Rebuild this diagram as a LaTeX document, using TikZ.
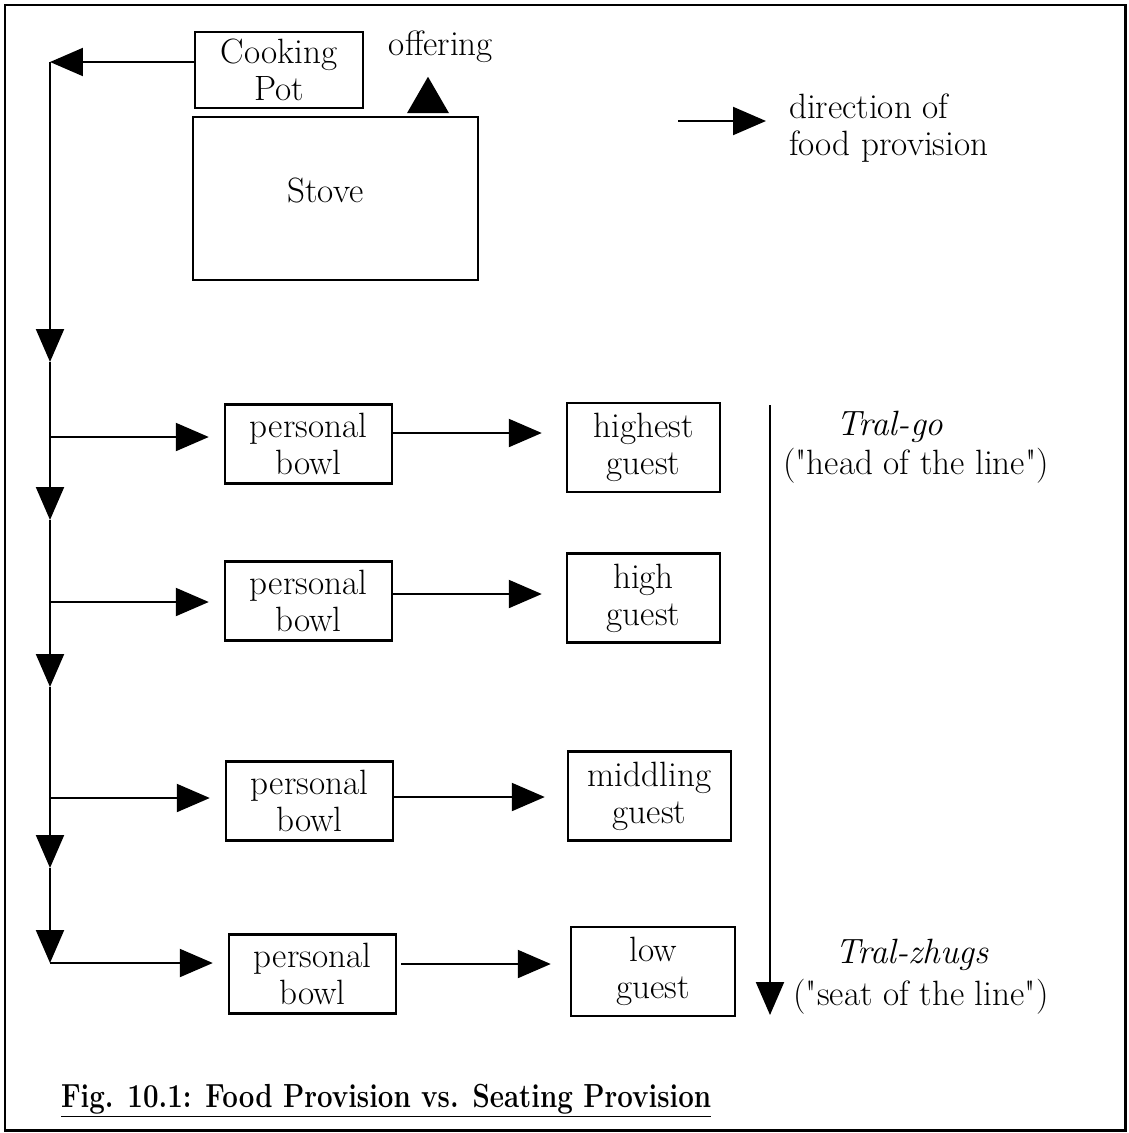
\documentclass[tikz,border=0pt]{standalone}
\usepackage{tikz}
\usetikzlibrary{shapes.geometric}
\usetikzlibrary{arrows.meta}

\begin{document}
\begin{tikzpicture}[x=0.02cm,y=-0.02cm,>={Triangle[length=0.66cm,width=0.56cm]},
	line width=1.2pt,font=\fontsize{20}{21}\selectfont,
	every node/.style={inner sep=0pt},
	box node/.style={draw,line width=1.4pt,align=center},
	bowl node/.style={box node,minimum width=3.34cm,minimum height=1.58cm},
	guest node/.style={box node,minimum height=1.78cm}]
	
	\useasboundingbox (0,0) rectangle (1129,1133);
	\draw[line width=1.7pt] (5,5) rectangle (1125,1130);
	
	% stove and pot
	\node[box node,minimum width=3.36cm,minimum height=1.52cm] (pot) at (279,70) {Cooking\\Pot};
	\node[box node,minimum width=5.7cm,minimum height=3.26cm,
	label={[xshift=-0.2cm,yshift=0.16cm]center:Stove}] (stove) at (335.5,198.5) {};
	\node[fill,regular polygon,regular polygon sides=3,minimum size=0.97cm] (offer mark) at (428,101) {};
	\node (offer) at (441,47) {offering};
	
	% legend
	\node[anchor=west,align=left] (key) at (788,128) {direction of\\food provision};
	\coordinate (key start) at (678,121);
	
	% bowls and guests
	\node[bowl node] (b1) at (308.5,444) {personal\\bowl};
	\node[bowl node] (b2) at (308.5,601) {personal\\bowl};
	\node[bowl node] (b3) at (309.5,801) {personal\\bowl};
	\node[bowl node] (b4) at (312.5,974) {personal\\bowl};
	\node[guest node,minimum width=3.06cm] (g1) at (643.5,447.5) {highest\\guest};
	\node[guest node,minimum width=3.06cm] (g2) at (643.5,598) {high\\guest};
	\node[guest node,minimum width=3.26cm] (g3) at (649.5,796) {middling\\guest};
	\node[guest node,minimum width=3.28cm] (g4) at (653,971.5) {low\\guest};
	
	% seating order
	\node[font=\fontsize{20}{21}\selectfont\itshape] (tral go) at (890,427) {Tral-go};
	\node (head) at (916,466) {(\textquotedbl head of the line\textquotedbl)};
	\node[font=\fontsize{20}{21}\selectfont\itshape] (tral zhugs) at (912,955) {Tral-zhugs};
	\node (seat) at (921,997) {(\textquotedbl seat of the line\textquotedbl)};
	\coordinate (line head) at (770,405);
	\coordinate (line seat) at (770,1015);
	
	\node[anchor=base west,font=\fontsize{19}{21}\selectfont\bfseries] (caption) at (60,1107)
	{\scalebox{0.83}[1]{\underline{Fig. 10.1: Food Provision vs. Seating Provision}}};
	
	% main line
	\coordinate (top) at (50,62);
	\coordinate (d1) at (50,362);
	\coordinate (d2) at (50,520);
	\coordinate (d3) at (50,687);
	\coordinate (d4) at (50,868);
	\coordinate (d5) at (50,963);
	\coordinate (r1) at (50,437);
	\coordinate (r2) at (50,602);
	\coordinate (r3) at (50,798);
	\coordinate (s1) at (0,433);
	\coordinate (s2) at (0,594);
	\coordinate (s3) at (0,797);
	\coordinate (s4) at (0,964);
	
	\draw[->] (pot.west |- top) -- (top);
	\draw[->] (top) -- (d1);
	\draw[->] (d1) -- (d2);
	\draw[->] (d2) -- (d3);
	\draw[->] (d3) -- (d4);
	\draw[->] (d4) -- (d5);
	
	\draw[->,shorten >=0.3cm] (r1) -- (r1 -| b1.west);
	\draw[->,shorten >=0.3cm] (r2) -- (r2 -| b2.west);
	\draw[->,shorten >=0.3cm] (r3) -- (r3 -| b3.west);
	\draw[->,shorten >=0.3cm] (d5) -- (d5 -| b4.west);
	
	\draw[->,shorten >=0.48cm] (b1.east |- s1) -- (g1.west |- s1);
	\draw[->,shorten >=0.48cm] (b2.east |- s2) -- (g2.west |- s2);
	\draw[->,shorten >=0.44cm] (b3.east |- s3) -- (g3.west |- s3);
	\draw[->,shorten >=0.38cm,shorten <=0.08cm] (b4.east |- s4) -- (g4.west |- s4);
	
	\draw[->] (line head) -- (line seat);
	\draw[->,shorten >=0.44cm] (key start) -- (key start -| key.west);
	
\end{tikzpicture}
\end{document}
